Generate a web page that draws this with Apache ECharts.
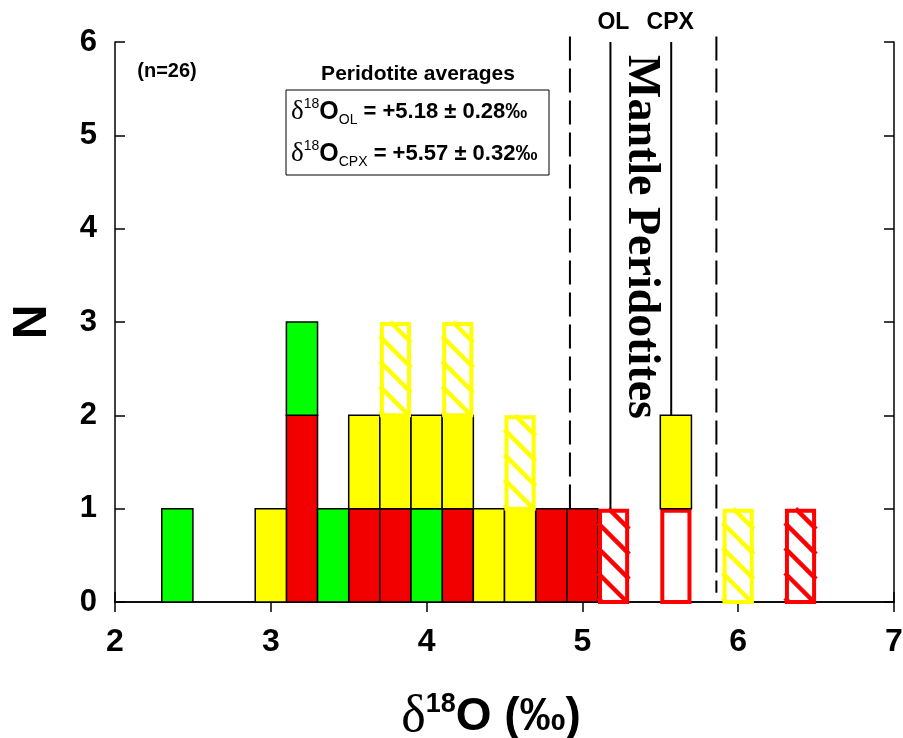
<!DOCTYPE html>
<html><head><meta charset="utf-8">
<script src="https://cdn.jsdelivr.net/npm/echarts@6/dist/echarts.min.js"></script>
<style>html,body{margin:0;padding:0;background:#fff}#c{width:903px;height:738px}</style>
</head><body><div id="c"></div>
<script>
// ---- data ----
const binCenters    = [2.4, 3.0, 3.2, 3.4, 3.6, 3.8, 4.0, 4.2, 4.4, 4.6, 4.8, 5.0, 5.2, 5.6, 6.0, 6.4];
const redSolid      = [0,   0,   2,   0,   1,   1,   0,   1,   0,   0,   1,   1,   0,   0,   0,   0];
const greenSolid    = [1,   0,   1,   1,   0,   0,   1,   0,   0,   0,   0,   0,   0,   0,   0,   0];
const redOpen       = [0,   0,   0,   0,   0,   0,   0,   0,   0,   0,   0,   0,   0,   1,   0,   0];
const redHatched    = [0,   0,   0,   0,   0,   0,   0,   0,   0,   0,   0,   0,   1,   0,   0,   1];
const yellowSolid   = [0,   1,   0,   0,   1,   1,   1,   1,   1,   1,   0,   0,   0,   1,   0,   0];
const yellowHatched = [0,   0,   0,   0,   0,   1,   0,   1,   0,   1,   0,   0,   0,   0,   1,   0];
const binWidth = 0.2;
const xTicks = [2, 3, 4, 5, 6, 7];
const yTicks = [0, 1, 2, 3, 4, 5, 6];
// reference lines: x position, top value, bottom value
const refLineX      = [4.92, 5.18, 5.57, 5.86];
const refLineTop    = [6.06, 6.0, 6.0, 6.06];
const refLineBottom = [1.0, 1.0, 2.0, 0.1];
const refLineDashed = [true, false, false, true];
const refLabels     = ['OL', 'CPX'];
const refLabelX     = [5.18, 5.57];

// ---- build stacked segments ----
const categories = [
  {name: 'red', counts: redSolid, kind: 'solid', color: '#f20000'},
  {name: 'green', counts: greenSolid, kind: 'solid', color: '#00ff00'},
  {name: 'redOpen', counts: redOpen, kind: 'open', color: '#ff0000'},
  {name: 'redHatched', counts: redHatched, kind: 'hatch', color: '#ff0000'},
  {name: 'yellow', counts: yellowSolid, kind: 'solid', color: '#ffff00'},
  {name: 'yellowHatched', counts: yellowHatched, kind: 'hatch', color: '#ffff00'}
];
const base = binCenters.map(() => 0);
const FONT = 'Liberation Sans, Arial, Helvetica, sans-serif';
const SERIF = 'Liberation Serif, Times New Roman, serif';

function makeRender(kind, color) {
  return function (params, api) {
    const x = api.value(0), y0 = api.value(1), y1 = api.value(2);
    const p0 = api.coord([x - binWidth / 2, y1]);
    const p1 = api.coord([x + binWidth / 2, y0]);
    const rx = p0[0], ry = p0[1], w = p1[0] - p0[0], h = p1[1] - p0[1];
    if (kind === 'solid') {
      return {type: 'rect', shape: {x: rx, y: ry, width: w, height: h},
        style: {fill: color, stroke: '#000', lineWidth: 1.5}};
    }
    if (kind === 'open') {
      return {type: 'rect', shape: {x: rx + 2, y: ry + 2, width: w - 4, height: h - 2},
        style: {fill: '#fff', stroke: color, lineWidth: 4}};
    }
    const children = [{type: 'rect', shape: {x: rx, y: ry, width: w, height: h}, style: {fill: '#fff'}}];
    const s = 25;
    for (let c = h - 4; c > -w; c -= s) {
      const u0 = Math.max(0, -c), u1 = Math.min(w, h - c);
      if (u1 > u0) {
        children.push({type: 'line', shape: {x1: rx + u0, y1: ry + u0 + c, x2: rx + u1, y2: ry + u1 + c},
          style: {stroke: color, lineWidth: 4.5}});
      }
    }
    children.push({type: 'rect', shape: {x: rx + 2, y: ry + 2, width: w - 4, height: h - 2},
      style: {fill: 'none', stroke: color, lineWidth: 4}});
    return {type: 'group', children: children};
  };
}

const series = [];
categories.forEach(cat => {
  const data = [];
  cat.counts.forEach((n, i) => {
    if (n > 0) { data.push([binCenters[i], base[i], base[i] + n]); base[i] += n; }
  });
  series.push({name: cat.name, type: 'custom', renderItem: makeRender(cat.kind, cat.color),
    data: data, encode: {x: 0, y: [1, 2]}, z: 3});
});
refLineX.forEach((x, i) => {
  series.push({type: 'line', data: [[x, refLineTop[i]], [x, refLineBottom[i]]], symbol: 'none', clip: false,
    lineStyle: {color: '#000', width: 2, type: refLineDashed[i] ? [24, 8] : 'solid'}, z: 4, silent: true});
});

const axisCommonX = {type: 'value', min: 2, max: 7, interval: 1,
  axisLine: {show: true, lineStyle: {color: '#000', width: 1.5}},
  axisTick: {show: true, inside: true, length: 10, lineStyle: {color: '#000', width: 1.5}},
  splitLine: {show: false}};
const axisCommonY = {type: 'value', min: 0, max: 6, interval: 1,
  axisLine: {show: true, lineStyle: {color: '#000', width: 1.5}},
  axisTick: {show: true, inside: true, length: 10, lineStyle: {color: '#000', width: 1.5}},
  splitLine: {show: false}};

const chart = echarts.init(document.getElementById('c'), null, {renderer: 'canvas'});
const richBox = {
  d: {fontFamily: SERIF, fontSize: 27, lineHeight: 30, verticalAlign: 'middle'},
  s: {fontFamily: FONT, fontSize: 14, lineHeight: 14, verticalAlign: 'top'},
  o: {fontFamily: FONT, fontWeight: 'bold', fontSize: 25, lineHeight: 30, verticalAlign: 'middle'},
  b: {fontFamily: FONT, fontSize: 14, lineHeight: 14, verticalAlign: 'bottom'},
  t: {fontFamily: FONT, fontWeight: 'bold', fontSize: 22, lineHeight: 30, verticalAlign: 'middle'}
};
chart.setOption({
  animation: false,
  backgroundColor: '#fff',
  grid: {left: 115, right: 9, top: 42, bottom: 136, containLabel: false, outerBoundsMode: 'none'},
  xAxis: [
    Object.assign({}, axisCommonX, {position: 'bottom',
      axisLabel: {margin: 24, fontFamily: FONT, fontWeight: 'bold', fontSize: 32, color: '#000',
        formatter: v => xTicks.includes(v) ? String(v) : ''}}),
    Object.assign({}, axisCommonX, {position: 'top', axisLabel: {show: false}})
  ],
  yAxis: [
    Object.assign({}, axisCommonY, {position: 'left',
      name: 'N', nameLocation: 'middle', nameGap: 58, nameRotate: 90,
      nameTextStyle: {fontFamily: FONT, fontWeight: 'bold', fontSize: 48, color: '#000'},
      axisLabel: {margin: 18, fontFamily: FONT, fontWeight: 'bold', fontSize: 31, color: '#000',
        formatter: v => yTicks.includes(v) ? String(v) : ''}}),
    Object.assign({}, axisCommonY, {position: 'right', axisLabel: {show: false}})
  ],
  series: series
});

const labelGraphics = refLabels.map((t, i) => {
  const p = chart.convertToPixel({xAxisIndex: 0, yAxisIndex: 0}, [refLabelX[i], 6]);
  return {type: 'text', x: p[0] + (i === 0 ? 3 : -1), y: p[1] - 19, style: {text: t, align: 'center', verticalAlign: 'middle',
    fontFamily: FONT, fontWeight: 'bold', fontSize: 23, fill: '#000'}};
});

chart.setOption({
  graphic: labelGraphics.concat([
    {type: 'text', x: 167, y: 71, style: {text: '(n=26)', align: 'center', verticalAlign: 'middle',
      fontFamily: FONT, fontWeight: 'bold', fontSize: 20, fill: '#000'}},
    {type: 'text', x: 418, y: 74, style: {text: 'Peridotite averages', align: 'center', verticalAlign: 'middle',
      fontFamily: FONT, fontWeight: 'bold', fontSize: 21, fill: '#000'}},
    {type: 'rect', shape: {x: 286, y: 90, width: 263, height: 85}, style: {fill: 'none', stroke: '#000', lineWidth: 1}},
    {type: 'text', x: 291, y: 112, style: {
      text: '{d|δ}{s|18}{o|O}{b|OL}{t| = +5.18 ± 0.28‰}', align: 'left', verticalAlign: 'middle', fill: '#000',
      rich: richBox}},
    {type: 'text', x: 291, y: 154, style: {
      text: '{d|δ}{s|18}{o|O}{b|CPX}{t| = +5.57 ± 0.32‰}', align: 'left', verticalAlign: 'middle', fill: '#000',
      rich: richBox}},
    {type: 'text', x: 641, y: 237, rotation: -Math.PI / 2, style: {text: 'Mantle Peridotites',
      align: 'center', verticalAlign: 'middle', fontFamily: SERIF, fontWeight: 'bold', fontSize: 46, fill: '#000'}},
    {type: 'text', x: 491, y: 717, style: {
      text: '{d|δ}{s|18}{o|O (‰)}', align: 'center', verticalAlign: 'middle', fill: '#000',
      rich: {
        d: {fontFamily: SERIF, fontSize: 52, lineHeight: 52, verticalAlign: 'middle'},
        s: {fontFamily: FONT, fontWeight: 'bold', fontSize: 27, lineHeight: 27, verticalAlign: 'top'},
        o: {fontFamily: FONT, fontWeight: 'bold', fontSize: 46, lineHeight: 52, verticalAlign: 'middle'}
      }}}
  ])
});
</script></body></html>
